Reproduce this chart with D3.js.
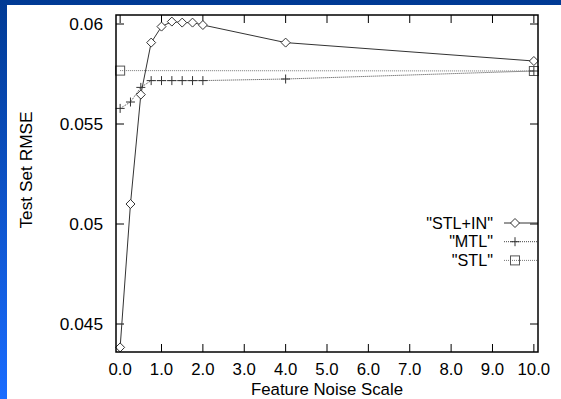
<!DOCTYPE html>
<html><head><meta charset="utf-8">
<script src="https://cdn.jsdelivr.net/npm/d3@7"></script>
<style>html,body{margin:0;padding:0;background:#fff;}svg{display:block;}</style>
</head><body>
<script>
// Data
const xTicks = [0,1,2,3,4,5,6,7,8,9,10];
const yTicks = [0.045,0.05,0.055,0.06];
const stlinX = [0,0.25,0.5,0.75,1.0,1.25,1.5,1.75,2.0,4.0,10.0];
const stlinY = [0.04383,0.0510,0.05647,0.05907,0.05987,0.06012,0.06007,0.06007,0.05995,0.05907,0.05815];
const mtlX = [0,0.25,0.5,0.75,1.0,1.25,1.5,1.75,2.0,4.0,10.0];
const mtlY = [0.05578,0.0561,0.05683,0.05717,0.05717,0.05717,0.05717,0.05717,0.05717,0.05725,0.05765];
const stlX = [0,10];
const stlY = [0.05767,0.05765];
const seriesNames = ['"STL+IN"','"MTL"','"STL"'];

const W=561,H=399;
const svg=d3.select("body").append("svg").attr("width",W).attr("height",H);
const defs=svg.append("defs");
const g=defs.append("linearGradient").attr("id","bg").attr("x1",0).attr("y1",0).attr("x2",0).attr("y2",1);
g.append("stop").attr("offset","0%").attr("stop-color","#003a94");
g.append("stop").attr("offset","100%").attr("stop-color","#1a6cff");
svg.append("rect").attr("width",W).attr("height",H).attr("fill","url(#bg)");
svg.append("rect").attr("x",7).attr("y",5).attr("width",W-7).attr("height",H-5).attr("fill","#fff");

const L=116,R=538,T=15,B=352;
const x=d3.scaleLinear().domain([-0.1,10.1]).range([L,R]);
const y=d3.scaleLinear().domain([0.0436,0.06045]).range([B,T]);
const font="'Liberation Sans', Arial, Helvetica, sans-serif";
const fs=17.3, fsx=16.8, fsl=16.2;
const tickLen=8;

// ticks (mirrored, inward)
const tk=svg.append("g").attr("stroke","#000").attr("stroke-width",1);
xTicks.forEach(v=>{
  tk.append("line").attr("x1",x(v)).attr("x2",x(v)).attr("y1",B).attr("y2",B-tickLen);
  tk.append("line").attr("x1",x(v)).attr("x2",x(v)).attr("y1",T).attr("y2",T+tickLen);
});
yTicks.forEach(v=>{
  tk.append("line").attr("x1",L).attr("x2",L+tickLen).attr("y1",y(v)).attr("y2",y(v));
  tk.append("line").attr("x1",R).attr("x2",R-tickLen).attr("y1",y(v)).attr("y2",y(v));
});
svg.append("g").selectAll("text").data(xTicks).join("text")
  .attr("x",d=>x(d)).attr("y",375).attr("text-anchor","middle")
  .attr("font-family",font).attr("font-size",fsx).text(d=>d.toFixed(1));
svg.append("g").selectAll("text").data(yTicks).join("text")
  .attr("x",103).attr("y",d=>y(d)+6).attr("text-anchor","end")
  .attr("font-family",font).attr("font-size",fs).text(d=>String(d));
svg.append("text").attr("x",(L+R)/2).attr("y",394.5).attr("text-anchor","middle")
  .attr("font-family",font).attr("font-size",fsx).text("Feature Noise Scale");
svg.append("text").attr("transform","translate(31.5,170) rotate(-90)").attr("text-anchor","middle")
  .attr("font-family",font).attr("font-size",fs).text("Test Set RMSE");

const line=d3.line().x(d=>x(d[0])).y(d=>y(d[1]));
const s1=stlinX.map((v,i)=>[v,stlinY[i]]);
const s2=mtlX.map((v,i)=>[v,mtlY[i]]);
const s3=stlX.map((v,i)=>[v,stlY[i]]);
const styles=[
  {data:s1,stroke:"#333",dash:null,sym:"diamond"},
  {data:s2,stroke:"#444",dash:"1,1",sym:"plus"},
  {data:s3,stroke:"#777",dash:"1,1",sym:"square"}
];
function sym(gr,cx,cy,t){
  if(t==="diamond") gr.append("path").attr("d",`M${cx},${cy-4.5}L${cx+4.5},${cy}L${cx},${cy+4.5}L${cx-4.5},${cy}Z`).attr("fill","#fff").attr("stroke","#333").attr("stroke-width",1);
  else if(t==="plus") gr.append("path").attr("d",`M${cx-4.5},${cy}H${cx+4.5}M${cx},${cy-4.5}V${cy+4.5}`).attr("stroke","#333").attr("stroke-width",1);
  else gr.append("rect").attr("x",cx-4.5).attr("y",cy-4.5).attr("width",9).attr("height",9).attr("fill","none").attr("stroke","#555").attr("stroke-width",1);
}
const plot=svg.append("g");
[2,1,0].forEach(i=>{
  const s=styles[i];
  plot.append("path").attr("d",line(s.data)).attr("fill","none").attr("stroke",s.stroke)
    .attr("stroke-width",1).attr("stroke-dasharray",s.dash);
});
[2,1,0].forEach(i=>{
  const s=styles[i];
  s.data.forEach(d=>sym(plot,x(d[0]),y(d[1]),s.sym));
});

// legend
const legY=[223,241.7,260.4];
seriesNames.forEach((n,i)=>{
  svg.append("text").attr("x",493).attr("y",legY[i]+5.5).attr("text-anchor","end")
    .attr("font-family",font).attr("font-size",fsl).text(n);
  svg.append("line").attr("x1",504).attr("x2",R).attr("y1",legY[i]).attr("y2",legY[i])
    .attr("stroke",styles[i].stroke).attr("stroke-width",1).attr("stroke-dasharray",styles[i].dash);
  sym(svg,515,legY[i],styles[i].sym);
});

svg.append("rect").attr("x",L).attr("y",T).attr("width",R-L).attr("height",B-T)
  .attr("fill","none").attr("stroke","#000").attr("stroke-width",1.5);
</script>
</body></html>
